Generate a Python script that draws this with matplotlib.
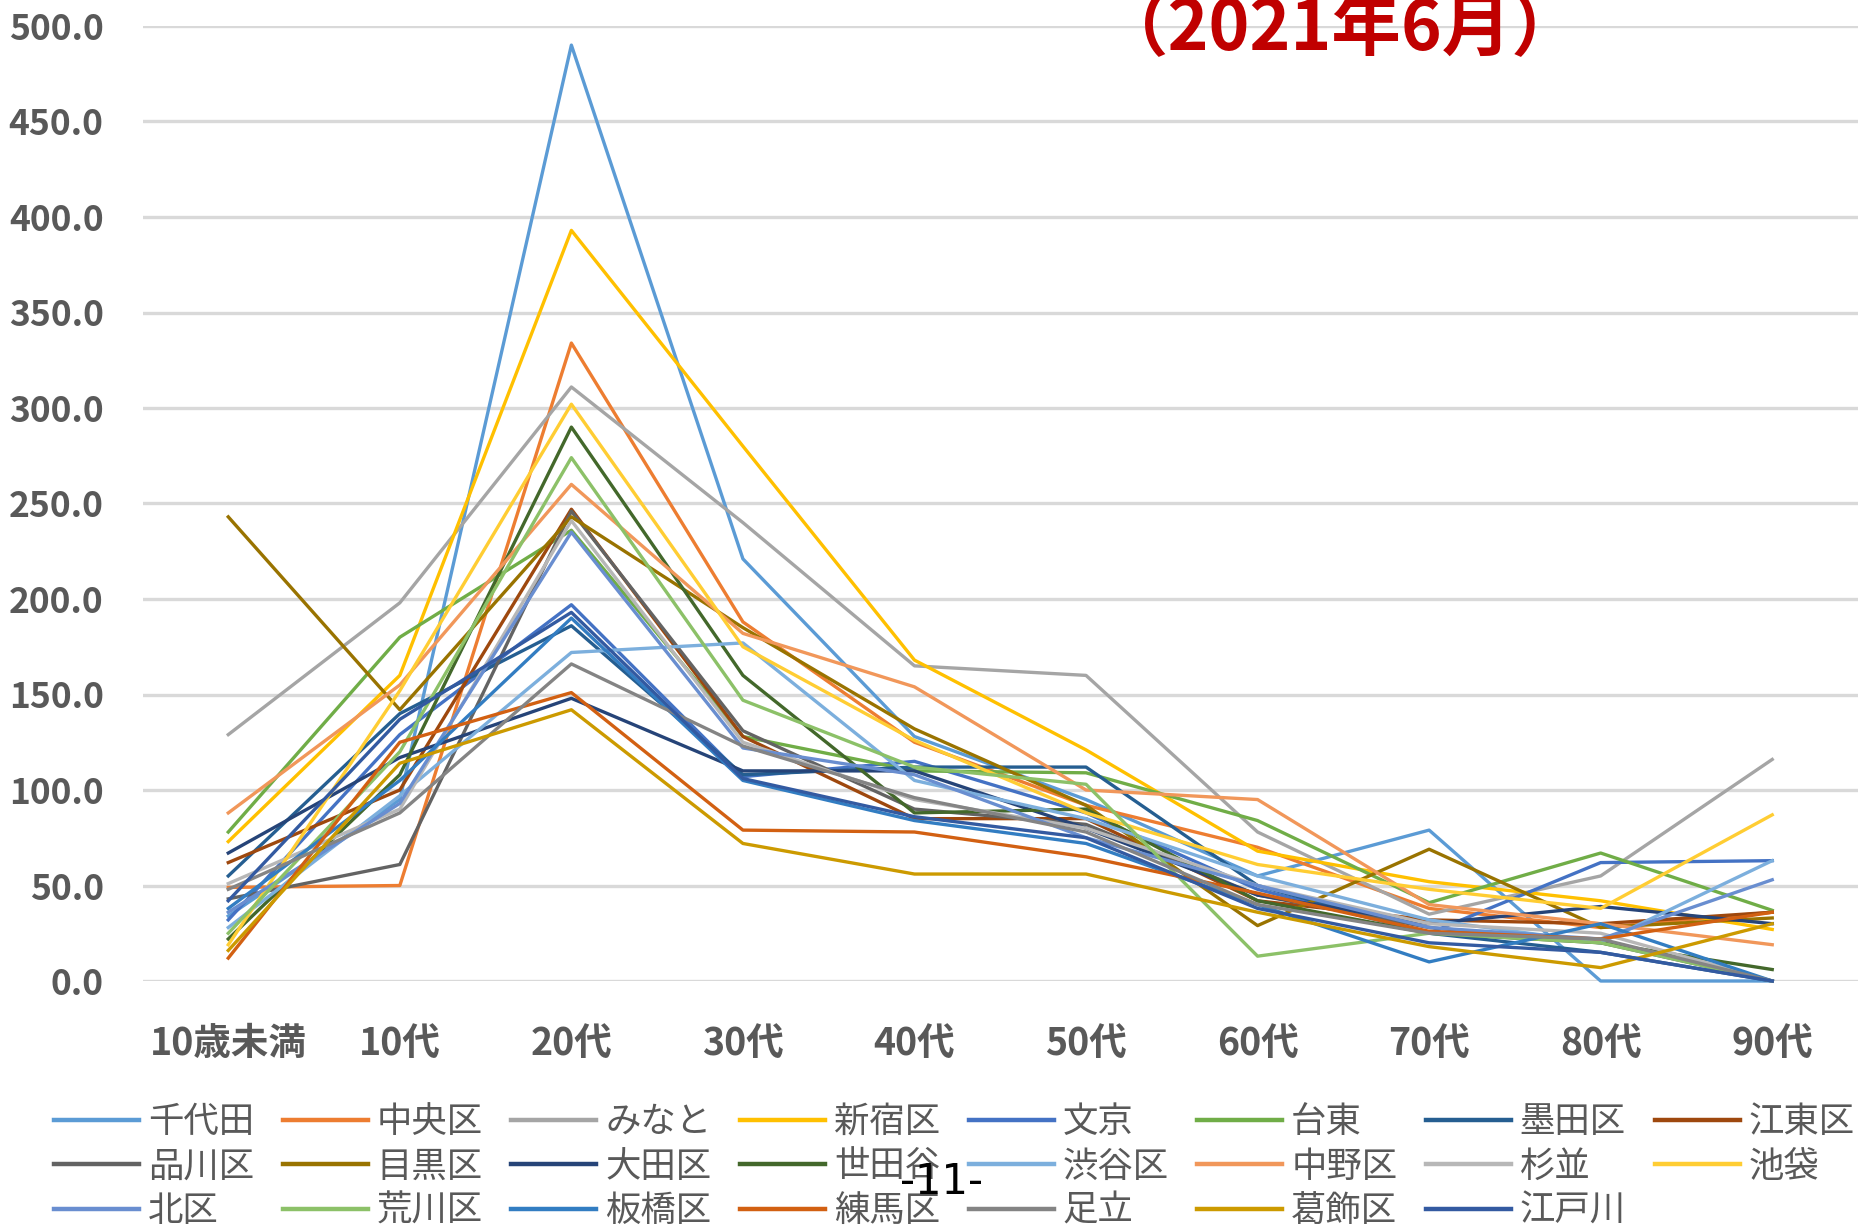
import matplotlib
matplotlib.use('Agg')
import matplotlib.pyplot as plt
import numpy as np

plt.rcParams['font.family'] = ['Noto Sans CJK JP', 'DejaVu Sans']

categories = ['10歳未満', '10代', '20代', '30代', '40代', '50代', '60代', '70代', '80代', '90代']

names = ['千代田', '中央区', 'みなと', '新宿区', '文京', '台東', '墨田区', '江東区',
         '品川区', '目黒区', '大田区', '世田谷', '渋谷区', '中野区', '杉並', '池袋',
         '北区', '荒川区', '板橋区', '練馬区', '足立', '葛飾区', '江戸川']

chiyoda   = [34, 95, 490, 221, 128, 95, 55, 79, 0, 0]
chuo      = [49, 50, 334, 188, 125, 92, 70, 38, 28, 36]
minato    = [129, 198, 311, 240, 165, 160, 78, 35, 55, 116]
shinjuku  = [73, 160, 393, 280, 168, 121, 68, 52, 42, 27]
bunkyo    = [32, 129, 197, 107, 115, 88, 48, 25, 62, 63]
taito     = [78, 180, 236, 128, 110, 109, 84, 41, 67, 37]
sumida    = [55, 140, 186, 108, 112, 112, 50, 25, 15, 0]
koto      = [62, 100, 247, 128, 85, 85, 42, 32, 30, 36]
shinagawa = [43, 61, 246, 131, 90, 82, 45, 28, 20, 0]
meguro    = [243, 142, 243, 185, 132, 92, 29, 69, 28, 33]
ota       = [67, 117, 148, 110, 110, 80, 45, 30, 39, 30]
setagaya  = [22, 108, 290, 160, 88, 90, 42, 25, 20, 6]
shibuya   = [28, 97, 172, 177, 105, 85, 55, 32, 20, 63]
nakano    = [88, 155, 260, 182, 154, 100, 95, 40, 30, 19]
suginami  = [51, 90, 241, 125, 95, 80, 50, 30, 25, 0]
ikebukuro = [19, 152, 302, 175, 126, 88, 61, 48, 38, 87]
kita      = [36, 93, 235, 122, 108, 75, 50, 28, 22, 53]
arakawa   = [25, 120, 274, 147, 112, 103, 13, 25, 20, 0]
itabashi  = [38, 105, 190, 105, 84, 72, 40, 10, 30, 0]
nerima    = [12, 125, 151, 79, 78, 65, 46, 26, 22, 36]
adachi    = [48, 88, 166, 123, 96, 78, 40, 25, 22, 0]
katsushika = [16, 114, 142, 72, 56, 56, 36, 18, 7, 30]
edogawa   = [42, 137, 193, 106, 86, 75, 38, 20, 15, 0]

series = [chiyoda, chuo, minato, shinjuku, bunkyo, taito, sumida, koto,
          shinagawa, meguro, ota, setagaya, shibuya, nakano, suginami, ikebukuro,
          kita, arakawa, itabashi, nerima, adachi, katsushika, edogawa]

colors = ['#5B9BD5', '#ED7D31', '#A5A5A5', '#FFC000', '#4472C4', '#70AD47',
          '#255E91', '#9E480E', '#636363', '#997300', '#264478', '#43682B',
          '#7CAFDD', '#F1975A', '#B7B7B7', '#FFCD33', '#698ED0', '#8CC168',
          '#327DC2', '#D26012', '#848484', '#CC9A00', '#335AA1']

yticks = [0, 50, 100, 150, 200, 250, 300, 350, 400, 450, 500]

W, H = 1862, 1226
fig = plt.figure(figsize=(W / 100, H / 100), dpi=100)
ax = fig.add_axes([142.5 / W, 1 - 981 / H, (1858 - 142.5) / W, (981 - 26) / H])

x = np.arange(len(categories))
for name, vals, c in zip(names, series, colors):
    ax.plot(x, vals, color=c, lw=2.4, label=name, clip_on=False)

ax.set_xlim(-0.5, len(categories) - 0.5)
ax.set_ylim(0, 500)
ax.set_yticks(yticks)
ax.set_yticklabels([f'{v:.1f}' for v in yticks], fontsize=25.5, fontweight='bold', color='#595959')
ax.set_xticks(x)
ax.set_xticklabels(categories, fontsize=27, fontweight='bold', color='#595959')
ax.tick_params(axis='both', length=0)
ax.tick_params(axis='y', pad=28)
ax.tick_params(axis='x', pad=31)
ax.yaxis.grid(True, color='#D9D9D9', lw=2.4)
ax.set_axisbelow(True)
for s in ax.spines.values():
    s.set_visible(False)

# legend: reorder so column-major fill reproduces row-major layout
ncol = 8
n = len(names)
order = []
for col in range(ncol):
    for row in range(3):
        i = row * ncol + col
        if i < n:
            order.append(i)
leg_handles = [plt.Line2D([], [], color=colors[i], lw=3.2) for i in order]
leg_labels = [names[i] for i in order]
fig.legend(leg_handles, leg_labels, ncol=ncol, loc='upper left',
           bbox_to_anchor=(54 / W, 1 - 1104 / H), frameon=False,
           fontsize=25.5, handlelength=2.4, handletextpad=0.25,
           columnspacing=0.81, labelspacing=0.24, borderpad=0, borderaxespad=0,
           labelcolor='#595959')

fig.text(1340 / W, 1 - 50 / H, '（2021年6月）', ha='center', va='baseline',
         fontsize=50, fontweight='bold', color='#C00000')

fig.text(942 / W, 1 - 1182 / H, '-11-', ha='center', va='center',
         fontsize=30, color='black', family='DejaVu Sans', zorder=10)

fig.savefig('out.png', dpi=100)
